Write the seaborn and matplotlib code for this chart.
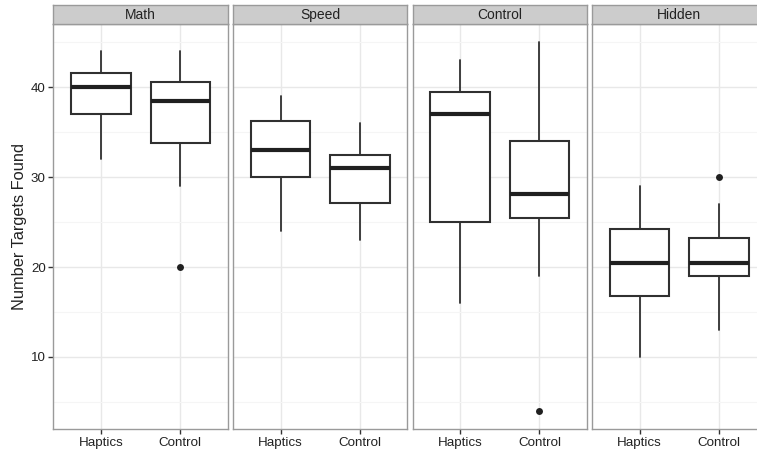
import matplotlib
matplotlib.use("Agg")
import matplotlib.pyplot as plt
import seaborn as sns
import pandas as pd

# ---- data (box summary statistics) ----
facets = ["Math", "Speed", "Control", "Hidden"]
conditions = ["Haptics", "Control"]
whisker_low = [[32.0, 29.0], [24.0, 23.0], [16.0, 19.0], [10.0, 13.0]]
quartile1 = [[37.0, 33.8], [30.0, 27.1], [25.0, 25.5], [16.8, 19.0]]
median = [[40.0, 38.5], [33.0, 31.0], [37.0, 28.1], [20.5, 20.5]]
quartile3 = [[41.6, 40.6], [36.3, 32.5], [39.5, 34.0], [24.2, 23.25]]
whisker_high = [[44.0, 44.0], [39.0, 36.0], [43.0, 45.0], [29.0, 27.0]]
outliers = [[[], [20.0]], [[], []], [[], [4.0]], [[], [30.0]]]
y_ticks = [10, 20, 30, 40]
y_label = "Number Targets Found"

rows = []
for fi, f in enumerate(facets):
    for ci, c in enumerate(conditions):
        rows.append(dict(facet=f, cond=c, pos=ci,
                         whislo=whisker_low[fi][ci], q1=quartile1[fi][ci],
                         med=median[fi][ci], q3=quartile3[fi][ci],
                         whishi=whisker_high[fi][ci],
                         fliers=outliers[fi][ci]))
df = pd.DataFrame(rows)

sns.set_theme(style="white")
plt.rcParams["font.family"] = ["Liberation Sans", "DejaVu Sans"]

W, H = 757, 455
g = sns.FacetGrid(df, col="facet", col_order=facets, sharey=True, sharex=True,
                  height=H / 100, aspect=(W / 4) / H, despine=False)
g.figure.set_size_inches(W / 100, H / 100)
g.figure.set_dpi(100)

edge = "#303030"


def draw_boxes(data, **kw):
    ax = plt.gca()
    stats = []
    for _, r in data.iterrows():
        stats.append(dict(whislo=r.whislo, q1=r.q1, med=r.med, q3=r.q3,
                          whishi=r.whishi, fliers=list(r.fliers), label=r.cond))
    ax.bxp(stats, positions=list(data["pos"]), widths=0.75, showcaps=False,
           patch_artist=True, manage_ticks=False,
           boxprops=dict(facecolor="white", edgecolor=edge, linewidth=1.5),
           medianprops=dict(color="#202020", linewidth=3.0, solid_capstyle="butt"),
           whiskerprops=dict(color=edge, linewidth=1.3),
           flierprops=dict(marker="o", markerfacecolor="#202020",
                           markeredgecolor="none", markersize=5),
           zorder=3)


g.map_dataframe(draw_boxes)

# layout in pixels
left0, step, pw = 53.3, 179.6, 174.6
p_bottom_px, p_top_px, s_top_px = 429.3, 24.0, 4.5
fig = g.figure
for i, (ax, f) in enumerate(zip(g.axes.flat, facets)):
    l = left0 + i * step
    ax.set_position([l / W, (H - p_bottom_px) / H, pw / W,
                     (p_bottom_px - p_top_px) / H])
    ax.set_xlim(-0.6, 1.6)
    ax.set_ylim(1.95, 47.05)
    ax.set_facecolor("white")
    ax.set_title("")
    ax.set_xlabel("")
    ax.set_ylabel("")
    ax.set_xticks([0, 1])
    ax.set_xticklabels(conditions)
    ax.set_yticks(y_ticks)
    ax.set_yticks([5, 15, 25, 35, 45], minor=True)
    ax.grid(True, which="major", color="#E8E8E8", linewidth=1.0, zorder=0)
    ax.grid(True, which="minor", axis="y", color="#F5F5F5", linewidth=0.8, zorder=0)
    ax.set_axisbelow(True)
    for sp in ax.spines.values():
        sp.set_visible(True)
        sp.set_color("#9A9A9A")
        sp.set_linewidth(1.0)
    ax.tick_params(axis="both", which="major", direction="out", length=3.5,
                   width=1.0, color="#333333", labelsize=9.6,
                   labelcolor="#222222", pad=2, bottom=True, left=(i == 0))
    ax.tick_params(axis="y", which="minor", length=0)
    if i != 0:
        ax.tick_params(axis="y", labelleft=False)
    # strip
    sax = fig.add_axes([l / W, (H - p_top_px) / H, pw / W,
                        (p_top_px - s_top_px) / H])
    sax.set_facecolor("#CCCCCC")
    sax.set_xticks([])
    sax.set_yticks([])
    for sp in sax.spines.values():
        sp.set_visible(True)
        sp.set_color("#9A9A9A")
        sp.set_linewidth(1.0)
    sax.text(0.5, 0.45, f, ha="center", va="center", fontsize=10,
             color="#222222", transform=sax.transAxes)

g.axes.flat[0].set_ylabel(y_label, fontsize=11.8, color="#222222", labelpad=3)

fig.savefig("out.png", dpi=100, facecolor="white")
